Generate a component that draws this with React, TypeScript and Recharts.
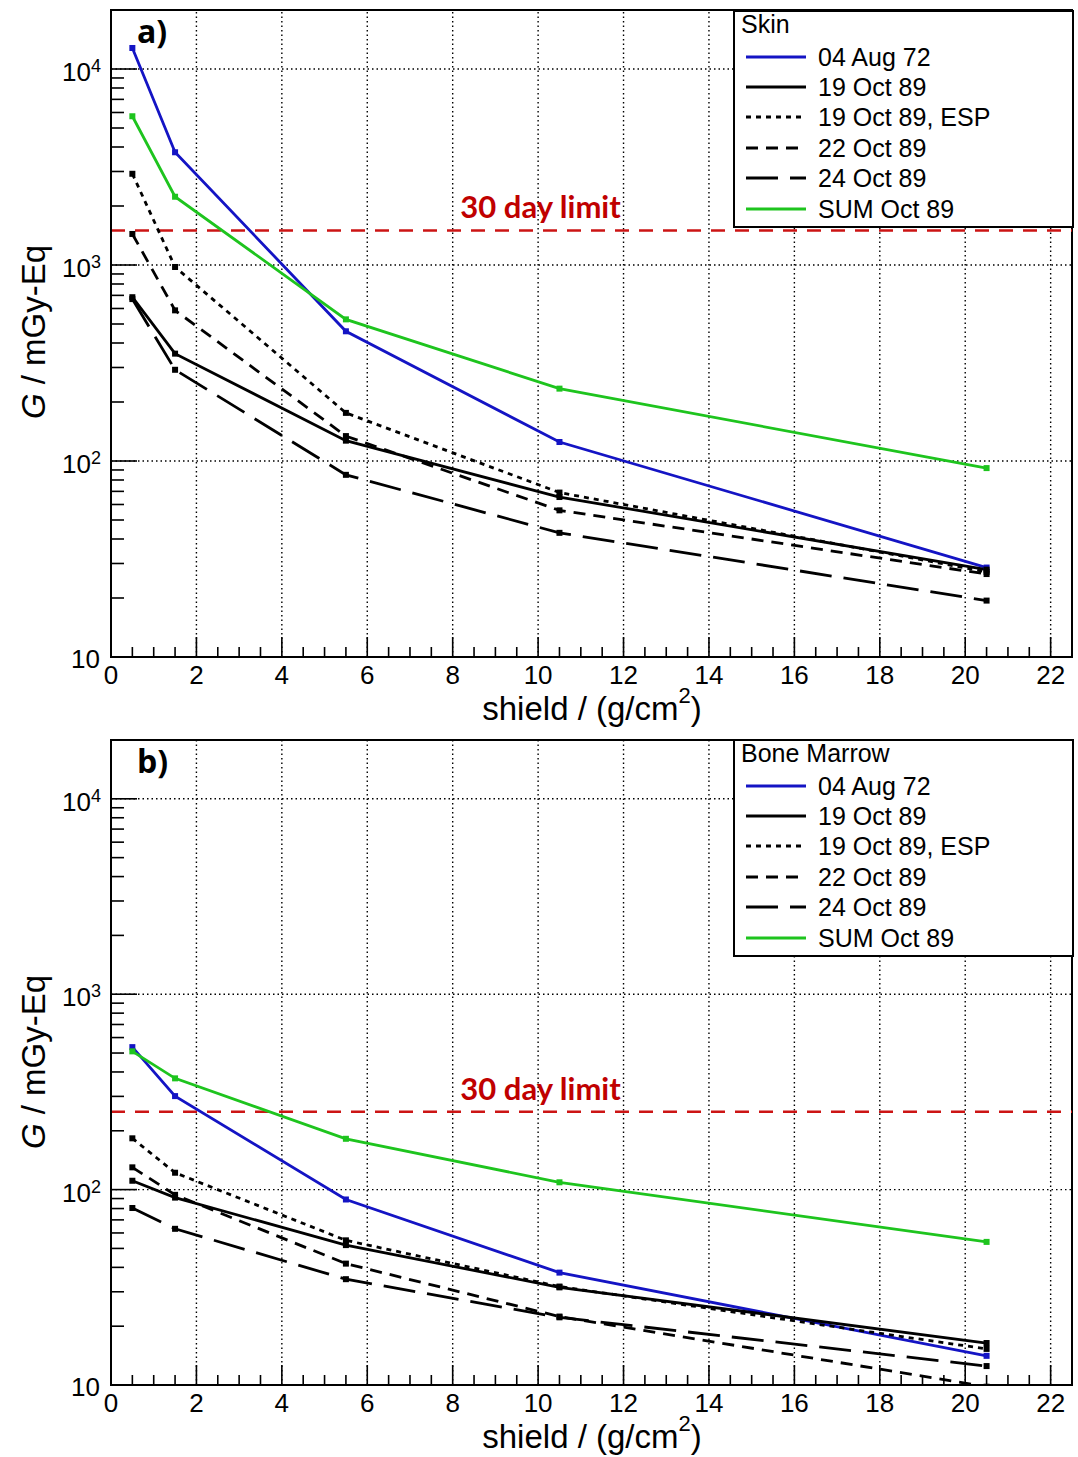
import React from 'react';
import { LineChart, Line, XAxis, YAxis, ReferenceLine, ReferenceArea } from 'recharts';

// ---------- data ----------
const SHIELD = [0.5, 1.5, 5.5, 10.5, 20.5];

const SKIN_AUG72 = [12800, 3760, 459, 125, 28.6];
const SKIN_OCT19 = [685, 353, 127, 65.5, 27.9];
const SKIN_OCT19_ESP = [2920, 977, 176, 69, 27.2];
const SKIN_OCT22 = [1440, 587, 134, 56, 26.5];
const SKIN_OCT24 = [670, 292, 85, 43, 19.4];
const SKIN_SUM = [5740, 2230, 528, 234, 92];

const BM_AUG72 = [536, 301, 89, 37.6, 14.1];
const BM_OCT19 = [111, 91, 52, 31.6, 16.4];
const BM_OCT19_ESP = [183, 122, 55, 31.9, 15.3];
const BM_OCT22 = [130, 94, 41.8, 22.4, 9.8];
const BM_OCT24 = [80.5, 63, 34.8, 22.2, 12.5];
const BM_SUM = [510, 371, 182, 109, 54];

const SKIN_LIMIT = 1500;
const BM_LIMIT = 250;

const X_MAJOR_TICKS = [0, 2, 4, 6, 8, 10, 12, 14, 16, 18, 20, 22];
const X_ALL_TICKS = Array.from({ length: 46 }, (_, i) => i * 0.5);
const Y_DECADES = [10, 100, 1000, 10000];
const Y_ALL_TICKS = [10, 20, 30, 40, 50, 60, 70, 80, 90, 100, 200, 300, 400, 500, 600, 700, 800, 900,
  1000, 2000, 3000, 4000, 5000, 6000, 7000, 8000, 9000, 10000, 20000];

const SERIES = [
  { key: 'aug72', name: '04 Aug 72', color: '#1414c4', dash: undefined },
  { key: 'oct19', name: '19 Oct 89', color: '#000000', dash: undefined },
  { key: 'esp', name: '19 Oct 89, ESP', color: '#000000', dash: '5 5' },
  { key: 'oct22', name: '22 Oct 89', color: '#000000', dash: '12 8' },
  { key: 'oct24', name: '24 Oct 89', color: '#000000', dash: '32 12' },
  { key: 'sum', name: 'SUM Oct 89', color: '#1ec41e', dash: undefined },
];

function buildRows(aug72: number[], oct19: number[], esp: number[], oct22: number[], oct24: number[], sum: number[]) {
  return SHIELD.map((x, i) => ({ x, aug72: aug72[i], oct19: oct19[i], esp: esp[i], oct22: oct22[i], oct24: oct24[i], sum: sum[i] }));
}

const SKIN_ROWS = buildRows(SKIN_AUG72, SKIN_OCT19, SKIN_OCT19_ESP, SKIN_OCT22, SKIN_OCT24, SKIN_SUM);
const BM_ROWS = buildRows(BM_AUG72, BM_OCT19, BM_OCT19_ESP, BM_OCT22, BM_OCT24, BM_SUM);

const FONT = '"Liberation Sans", Arial, sans-serif';
const W = 1078;

const XTick = (props: any) => {
  const { x, y, payload } = props;
  const v = payload.value;
  const major = Math.abs(v / 2 - Math.round(v / 2)) < 1e-6;
  return (
    <g>
      <line x1={x} x2={x} y1={y} y2={y - (major ? 20 : 10)} stroke="#000" strokeWidth={1.6} />
      {major && (
        <text x={x} y={y + 27} textAnchor="middle" fontSize={26} fontFamily={FONT} fill="#000">
          {v}
        </text>
      )}
    </g>
  );
};

const YTick = (props: any) => {
  const { x, y, payload } = props;
  const v = payload.value;
  const lg = Math.log10(v);
  const exp = Math.round(lg);
  const major = Math.abs(lg - exp) < 1e-6;
  return (
    <g>
      <line x1={x} x2={x + (major ? 26 : 13)} y1={y} y2={y} stroke="#000" strokeWidth={1.6} />
      {major && exp === 1 && (
        <text x={x - 11} y={y + 11} textAnchor="end" fontSize={26} fontFamily={FONT} fill="#000">10</text>
      )}
      {major && exp > 1 && (
        <text x={x - 10} y={y + 12} textAnchor="end" fontSize={26} fontFamily={FONT} fill="#000">
          10<tspan dy={-9} fontSize={18}>{exp}</tspan>
        </text>
      )}
    </g>
  );
};

const LimitLabel = (props: any) => {
  const { viewBox } = props;
  const vb = viewBox || { x: 0, y: 0, width: 0 };
  return (
    <text
      x={vb.x + vb.width * 0.447}
      y={vb.y - 12}
      textAnchor="middle"
      fontSize={31}
      fontWeight={700}
      fontFamily='Lato, "Open Sans", sans-serif'
      fill="#c00000"
    >
      30 day limit
    </text>
  );
};

const SquareDot = (color: string) => (props: any) => {
  const { cx, cy, index } = props;
  if (cx == null || cy == null || !isFinite(cy)) return <g key={index} />;
  return <rect key={index} x={cx - 3} y={cy - 3} width={6} height={6} fill={color} />;
};

function LegendBox({ title }: { title: string }) {
  return (
    <div
      style={{
        position: 'absolute', left: 733, top: 10, width: 337, height: 214,
        border: '2px solid #000', background: '#fff', fontFamily: FONT, fontSize: 25, color: '#000',
      }}
    >
      <div style={{ position: 'absolute', left: 6, top: -2, lineHeight: '28px' }}>{title}</div>
      {SERIES.map((s, i) => (
        <div key={s.key} style={{ position: 'absolute', left: 0, top: 29.5 + i * 30.4, height: 30, width: 330 }}>
          <svg width={80} height={30} style={{ position: 'absolute', left: 0, top: 0 }}>
            <line x1={11} x2={71} y1={15} y2={15} stroke={s.color} strokeWidth={3} strokeDasharray={s.dash} />
          </svg>
          <div style={{ position: 'absolute', left: 83, top: 0, lineHeight: '30px', whiteSpace: 'nowrap' }}>{s.name}</div>
        </div>
      ))}
    </div>
  );
}

function Panel({ rows, title, tag, limit, height, top }: { rows: any[]; title: string; tag: string; limit: number; height: number; top: number }) {
  const plotTop = top;
  return (
    <div style={{ position: 'relative', width: W, height }}>
      <LineChart width={W} height={height} data={rows} margin={{ top: plotTop, right: 6, bottom: 0, left: 0 }}>
        <XAxis
          dataKey="x"
          type="number"
          domain={[0, 22.5]}
          ticks={X_ALL_TICKS}
          interval={0}
          tick={<XTick />}
          tickSize={0}
          tickMargin={0}
          tickLine={false}
          axisLine={{ stroke: '#000', strokeWidth: 2 }}
          height={72}
          allowDataOverflow
        />
        <YAxis
          type="number"
          scale="log"
          domain={[10, 20000]}
          ticks={Y_ALL_TICKS}
          interval={0}
          tick={<YTick />}
          tickSize={0}
          tickMargin={0}
          tickLine={false}
          axisLine={{ stroke: '#000', strokeWidth: 2 }}
          width={111}
          allowDataOverflow
        />
        {X_MAJOR_TICKS.filter((v) => v > 0).map((v) => (
          <ReferenceLine key={'gx' + v} x={v} stroke="#000" strokeWidth={1.4} strokeDasharray="1.5 3" />
        ))}
        {Y_DECADES.filter((v) => v > 10).map((v) => (
          <ReferenceLine key={'gy' + v} y={v} stroke="#000" strokeWidth={1.4} strokeDasharray="1.5 3" />
        ))}
        <ReferenceArea x1={0} x2={22.5} y1={10} y2={20000} fill="none" stroke="#000" strokeWidth={2} />
        <ReferenceLine y={limit} stroke="#cc1414" strokeWidth={2.5} strokeDasharray="14 10" label={<LimitLabel />} />
        {SERIES.map((s) => (
          <Line
            key={s.key}
            dataKey={s.key}
            name={s.name}
            type="linear"
            stroke={s.color}
            strokeWidth={2.8}
            strokeDasharray={s.dash}
            dot={SquareDot(s.color)}
            activeDot={false}
            isAnimationActive={false}
          />
        ))}
      </LineChart>
      <LegendBox title={title} />
      <div style={{ position: 'absolute', left: 137, top: plotTop + 2, fontFamily: '"Open Sans", Arial, sans-serif', fontWeight: 700, fontSize: 32, lineHeight: '38px' }}>
        {tag}
      </div>
      <div
        style={{
          position: 'absolute', left: 592, top: height - 38, transform: 'translateX(-50%)',
          fontFamily: FONT, fontSize: 33, lineHeight: '36px', whiteSpace: 'nowrap',
        }}
      >
        shield / (g/cm<sup style={{ fontSize: 22, verticalAlign: 'top', lineHeight: '22px', position: 'relative', top: -6 }}>2</sup>)
      </div>
      <div
        style={{
          position: 'absolute', left: 34, top: plotTop + 322, transform: 'translate(-50%, -50%) rotate(-90deg)',
          fontFamily: FONT, fontSize: 33, lineHeight: '40px', whiteSpace: 'nowrap',
        }}
      >
        <i>G</i> / mGy-Eq
      </div>
    </div>
  );
}

export default function App() {
  return (
    <div style={{ position: 'absolute', left: 0, top: 0, width: W, height: 1457, background: '#fff' }}>
      <Panel rows={SKIN_ROWS} title="Skin" tag="a)" limit={SKIN_LIMIT} height={729} top={10} />
      <Panel rows={BM_ROWS} title="Bone Marrow" tag="b)" limit={BM_LIMIT} height={728} top={11} />
    </div>
  );
}
